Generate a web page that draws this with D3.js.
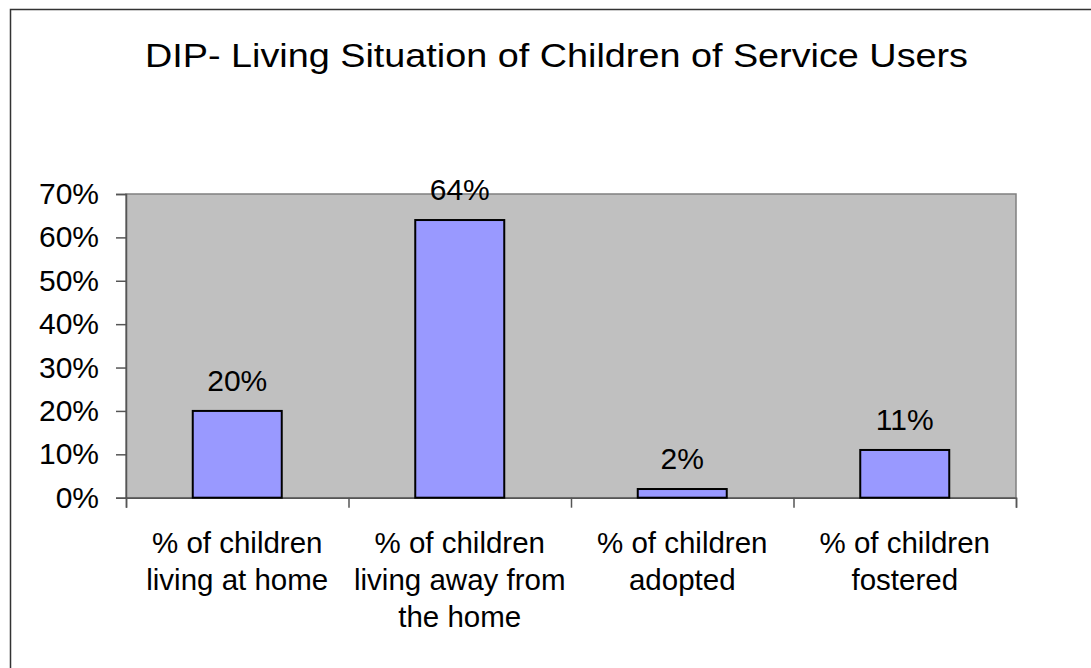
<!DOCTYPE html>
<html>
<head>
<meta charset="utf-8">
<script src="https://cdn.jsdelivr.net/npm/d3@7"></script>
<style>
  html, body { margin: 0; padding: 0; background: #fff; }
  svg { display: block; font-family: "Liberation Sans", Arial, sans-serif; }
</style>
</head>
<body>
<svg id="chart" width="1091" height="668"></svg>
<script>
// Share of service users' children by living situation (percent)
const categories = [
  ["% of children", "living at home"],
  ["% of children", "living away from", "the home"],
  ["% of children", "adopted"],
  ["% of children", "fostered"]
];
const values = [20, 64, 2, 11];
const yTicks = [0, 10, 20, 30, 40, 50, 60, 70];
const title = "DIP- Living Situation of Children of Service Users";

const svg = d3.select("#chart");

// chart frame (runs off the right and bottom edges)
svg.append("rect")
  .attr("x", 10.5).attr("y", 9.5)
  .attr("width", 1100).attr("height", 700)
  .attr("fill", "#fff")
  .attr("stroke", "#333").attr("stroke-width", 1.5);

svg.append("text")
  .attr("x", 145).attr("y", 67)
  .attr("font-size", 34)
  .attr("textLength", 823)
  .attr("lengthAdjust", "spacingAndGlyphs")
  .attr("fill", "#000")
  .text(title);

const plot = { left: 126, right: 1016, top: 194, bottom: 497.7 };

const x = d3.scaleBand()
  .domain(d3.range(categories.length))
  .range([plot.left, plot.right])
  .paddingInner(0.6).paddingOuter(0.3);

const xEdges = d3.scaleLinear()
  .domain([0, categories.length])
  .range([plot.left, plot.right]);

const y = d3.scaleLinear()
  .domain([0, 70])
  .range([plot.bottom, plot.top]);

// plot area background
svg.append("rect")
  .attr("x", plot.left).attr("y", plot.top)
  .attr("width", plot.right - plot.left)
  .attr("height", plot.bottom - plot.top)
  .attr("fill", "#c0c0c0")
  .attr("stroke", "#808080").attr("stroke-width", 1.5);

// y axis
const yAxis = d3.axisLeft(y)
  .tickValues(yTicks)
  .tickSize(10)
  .tickPadding(17)
  .tickFormat(d => d + "%");
const yg = svg.append("g")
  .attr("transform", `translate(${plot.left},0)`)
  .call(yAxis);
yg.select(".domain").attr("stroke", "#555").attr("stroke-width", 1.5);
yg.selectAll(".tick line").attr("stroke", "#555").attr("stroke-width", 1.5);
yg.selectAll(".tick text")
  .attr("font-size", 30).attr("fill", "#000")
  .attr("font-family", "Liberation Sans, Arial, sans-serif");

// x axis baseline with ticks at category boundaries
const xAxis = d3.axisBottom(xEdges)
  .tickValues(d3.range(categories.length + 1))
  .tickSize(10)
  .tickFormat("");
const xg = svg.append("g")
  .attr("transform", `translate(0,${plot.bottom})`)
  .call(xAxis);
xg.select(".domain").attr("stroke", "#555").attr("stroke-width", 1.5);
xg.selectAll(".tick line").attr("stroke", "#555").attr("stroke-width", 1.5);

// bars
svg.append("g").selectAll("rect")
  .data(values)
  .join("rect")
  .attr("x", (d, i) => x(i))
  .attr("y", d => y(d))
  .attr("width", x.bandwidth())
  .attr("height", d => y(0) - y(d))
  .attr("fill", "#9999ff")
  .attr("stroke", "#000").attr("stroke-width", 2);

// value labels
svg.append("g").selectAll("text")
  .data(values)
  .join("text")
  .attr("x", (d, i) => x(i) + x.bandwidth() / 2)
  .attr("y", d => y(d) - 20)
  .attr("text-anchor", "middle")
  .attr("font-size", 30)
  .attr("fill", "#000")
  .text(d => d + "%");

// category labels
const cat = svg.append("g").selectAll("text")
  .data(categories)
  .join("text")
  .attr("x", (d, i) => x(i) + x.bandwidth() / 2)
  .attr("y", 553)
  .attr("text-anchor", "middle")
  .attr("font-size", 29.5)
  .attr("fill", "#000");
cat.selectAll("tspan")
  .data(d => d)
  .join("tspan")
  .attr("x", function () { return d3.select(this.parentNode).attr("x"); })
  .attr("dy", (d, i) => i === 0 ? 0 : 37)
  .text(d => d);
</script>
</body>
</html>
